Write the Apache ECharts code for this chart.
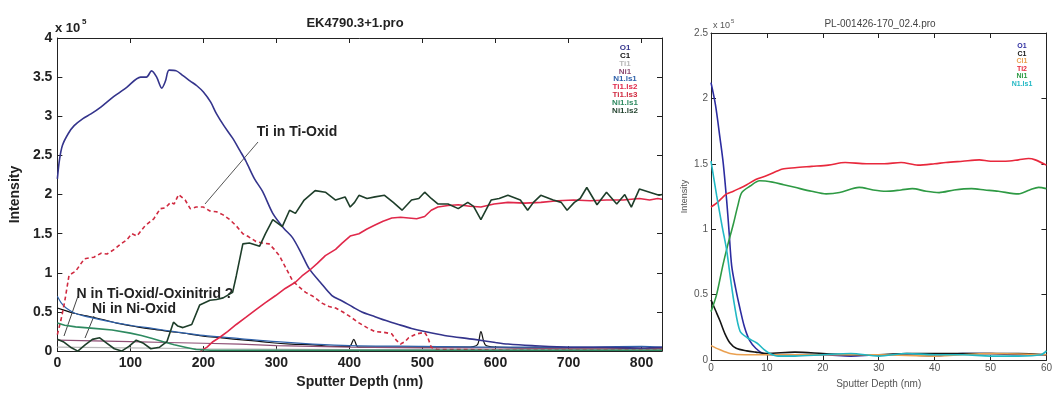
<!DOCTYPE html>
<html>
<head>
<meta charset="utf-8">
<script src="https://cdn.jsdelivr.net/npm/echarts@6/dist/echarts.min.js"></script>
<style>
  html, body { margin: 0; padding: 0; background: #fff; }
  #chart { width: 1055px; height: 394px; }
</style>
</head>
<body>
<div id="chart"></div>
<script>
// ---- left profile: EK4790.3+1.pro  (depth nm, intensity x1e5) ----
const LEFT_X_TICKS = [0, 100, 200, 300, 400, 500, 600, 700, 800];
const LEFT_Y_TICKS = [0, 0.5, 1, 1.5, 2, 2.5, 3, 3.5, 4];

const L_O1 = [[0,2.2],[3,2.45],[7,2.63],[15,2.78],[23,2.88],[35,2.97],[46,3.03],[60,3.12],[77,3.25],[95,3.37],[114,3.5],[122,3.5],[129,3.58],[136,3.5],[143,3.36],[148,3.45],[153,3.59],[163,3.58],[172,3.52],[182,3.45],[191,3.39],[200,3.31],[210,3.18],[218,3.03],[228,2.88],[240,2.72],[250,2.56],[258,2.43],[270,2.2],[281,2.04],[295,1.76],[310,1.57],[322,1.45],[334,1.25],[345,1.05],[360,0.88],[376,0.71],[390,0.64],[405,0.56],[417,0.5],[435,0.44],[450,0.39],[467,0.34],[485,0.29],[503,0.25],[530,0.2],[571,0.15],[600,0.11],[617,0.09],[650,0.07],[700,0.05],[750,0.05],[800,0.04],[828,0.05]];
const L_C1 = [[0,0.55],[10,0.52],[20,0.49],[40,0.45],[64,0.4],[85,0.35],[109,0.31],[130,0.28],[155,0.25],[180,0.22],[200,0.19],[225,0.17],[245,0.15],[270,0.13],[290,0.11],[320,0.09],[350,0.08],[381,0.06],[400,0.06],[406,0.15],[412,0.05],[450,0.05],[500,0.05],[560,0.05],[575,0.08],[580,0.25],[586,0.08],[600,0.05],[650,0.04],[700,0.04],[750,0.04],[800,0.03],[828,0.03]];
const L_TI1 = [[0,0.05],[100,0.04],[200,0.03],[400,0.02],[600,0.02],[828,0.02]];
const L_NI1 = [[0,0.14],[50,0.13],[100,0.12],[150,0.11],[200,0.1],[250,0.09],[300,0.07],[350,0.06],[400,0.05],[500,0.04],[600,0.04],[700,0.03],[828,0.03]];
const L_N1_LS1 = [[0,0.7],[5,0.62],[12,0.55],[25,0.48],[45,0.43],[70,0.38],[100,0.33],[130,0.29],[160,0.25],[200,0.2],[250,0.16],[300,0.12],[350,0.09],[400,0.07],[500,0.06],[600,0.05],[700,0.05],[800,0.06],[828,0.05]];
const L_TI1_LS2 = [[196,0],[205,0.05],[213,0.12],[223,0.18],[233,0.25],[245,0.34],[258,0.43],[272,0.53],[285,0.62],[299,0.71],[312,0.8],[326,0.88],[335,0.96],[345,1.03],[356,1.12],[367,1.22],[381,1.3],[390,1.38],[401,1.47],[413,1.5],[424,1.56],[435,1.61],[446,1.66],[458,1.7],[470,1.71],[481,1.7],[492,1.69],[503,1.72],[512,1.8],[521,1.84],[535,1.86],[549,1.87],[565,1.85],[580,1.84],[598,1.88],[617,1.9],[640,1.89],[662,1.9],[685,1.92],[707,1.93],[730,1.92],[752,1.93],[775,1.93],[797,1.95],[811,1.93],[822,1.95],[828,1.94]];
const L_TI1_LS3 = [[0,0.21],[5,0.4],[10,0.63],[16,0.97],[25,1.02],[37,1.18],[50,1.2],[60,1.25],[68,1.24],[78,1.3],[87,1.37],[95,1.42],[102,1.5],[109,1.47],[120,1.6],[132,1.69],[141,1.82],[148,1.83],[155,1.9],[160,1.88],[166,2.0],[175,1.93],[182,1.82],[190,1.84],[200,1.84],[209,1.79],[218,1.78],[227,1.74],[236,1.68],[245,1.6],[254,1.5],[262,1.46],[272,1.4],[281,1.38],[290,1.37],[297,1.3],[304,1.22],[313,1.06],[322,0.9],[331,0.82],[340,0.75],[350,0.7],[363,0.61],[372,0.57],[381,0.55],[391,0.5],[401,0.44],[413,0.36],[424,0.3],[435,0.25],[447,0.24],[458,0.22],[464,0.14],[470,0.09],[476,0.12],[481,0.17],[492,0.22],[503,0.24],[507,0.18],[512,0.05],[520,0.02],[560,0.02],[620,0.01],[828,0.01]];
const L_NI1_LS1 = [[0,0.36],[10,0.33],[25,0.31],[50,0.29],[75,0.27],[100,0.23],[115,0.2],[130,0.16],[145,0.12],[160,0.08],[175,0.05],[190,0.02],[210,0.01],[300,0.01],[828,0.01]];
const L_NI1_LS2 = [[0,0.15],[8,0.12],[18,0.05],[28,0],[38,0.08],[48,0.15],[58,0.17],[68,0.1],[78,0.03],[88,0],[98,0.06],[108,0.14],[118,0.1],[128,0.03],[140,0.05],[150,0.12],[159,0.37],[165,0.32],[172,0.3],[184,0.34],[195,0.59],[209,0.65],[218,0.66],[227,0.68],[240,0.75],[245,0.96],[254,1.37],[263,1.38],[277,1.34],[285,1.5],[295,1.68],[308,1.59],[318,1.8],[326,1.76],[338,1.93],[353,2.05],[367,2.03],[381,1.93],[394,1.97],[401,1.84],[407,1.9],[413,1.99],[424,1.95],[435,1.97],[448,1.99],[460,1.9],[472,1.8],[485,1.93],[495,1.95],[503,2.03],[512,1.95],[521,1.88],[535,1.88],[549,1.82],[562,1.9],[570,1.85],[580,1.68],[594,1.93],[605,1.95],[617,1.99],[634,1.93],[644,1.8],[652,1.9],[662,1.99],[679,1.93],[690,1.9],[698,1.8],[708,1.9],[716,1.95],[725,2.09],[739,1.87],[752,2.03],[766,1.88],[777,2.0],[786,1.84],[797,2.07],[811,2.03],[824,1.99],[828,2.0]];

// ---- right profile: PL-001426-170_02.4.pro ----
const RIGHT_X_TICKS = [0, 10, 20, 30, 40, 50, 60];
const RIGHT_Y_TICKS = [0, 0.5, 1, 1.5, 2, 2.5];

const R_O1 = [[0,2.12],[0.8,1.95],[1.6,1.7],[2.2,1.5],[2.8,1.22],[3.2,1.0],[3.7,0.72],[4.4,0.55],[5.2,0.39],[6,0.25],[6.9,0.15],[8,0.09],[9.3,0.05],[11,0.04],[15,0.04],[20,0.04],[25,0.03],[30,0.04],[35,0.04],[40,0.03],[45,0.05],[50,0.05],[55,0.04],[60,0.04]];
const R_C1 = [[0,0.46],[0.8,0.38],[1.6,0.3],[2.5,0.2],[3.4,0.13],[4.5,0.09],[6.4,0.07],[8,0.06],[10,0.05],[15,0.06],[20,0.05],[25,0.04],[30,0.04],[35,0.05],[40,0.05],[45,0.05],[50,0.05],[55,0.05],[60,0.04]];
const R_CL1 = [[0,0.11],[1.5,0.08],[3.4,0.05],[6,0.04],[10,0.04],[20,0.04],[30,0.04],[40,0.03],[50,0.05],[60,0.04]];
const R_TI2 = [[0,1.17],[1,1.2],[2,1.24],[2.8,1.27],[4,1.29],[5,1.31],[6.4,1.34],[8,1.38],[10,1.41],[12.8,1.46],[15,1.47],[18,1.48],[21,1.49],[24,1.51],[27.8,1.5],[31,1.5],[34,1.51],[37,1.49],[40,1.5],[42,1.51],[45,1.52],[48,1.53],[50,1.52],[52.7,1.52],[55,1.53],[56.8,1.54],[58,1.53],[60,1.49]];
const R_NI1 = [[0,0.37],[1,0.5],[2.1,0.72],[3,0.88],[4,1.04],[4.8,1.18],[5.5,1.28],[7,1.33],[8.7,1.37],[11,1.36],[13,1.34],[15,1.32],[18,1.29],[20.6,1.27],[23,1.28],[26.5,1.32],[29,1.3],[31.3,1.29],[34,1.3],[36,1.31],[38.5,1.29],[40.8,1.28],[43.5,1.3],[46.6,1.31],[49,1.3],[51.4,1.29],[55,1.27],[57,1.3],[58.6,1.32],[60,1.31]];
const R_N1_LS1 = [[0,1.52],[1,1.26],[2,1.02],[2.8,0.84],[3.4,0.65],[4.2,0.42],[5.2,0.22],[6.5,0.17],[8.2,0.13],[9.5,0.08],[10.5,0.05],[12,0.03],[15,0.03],[20,0.04],[25,0.05],[30,0.03],[35,0.05],[40,0.04],[45,0.04],[50,0.03],[55,0.03],[59,0.04],[60,0.07]];

const LEFT_LEGEND = ["O1", "C1", "Ti1", "Ni1", "N1.ls1", "Ti1.ls2", "Ti1.ls3", "Ni1.ls1", "Ni1.ls2"];
const LEFT_COLORS = ["#34348c", "#111111", "#b8b8b8", "#8e4e74", "#3062aa", "#e0284a", "#d02a40", "#2e8a60", "#1e3e2a"];
const RIGHT_LEGEND = ["O1", "C1", "Cl1", "Ti2", "Ni1", "N1.ls1"];
const RIGHT_COLORS = ["#2c2ca0", "#151515", "#eaa050", "#e8283c", "#2e9a44", "#22b8c4"];

const leftData = [L_O1, L_C1, L_TI1, L_NI1, L_N1_LS1, L_TI1_LS2, L_TI1_LS3, L_NI1_LS1, L_NI1_LS2];
const rightData = [R_O1, R_C1, R_CL1, R_TI2, R_NI1, R_N1_LS1];

const chart = echarts.init(document.getElementById("chart"), null, { renderer: "canvas" });

// axis helper: main axis with labels + a mirror axis for the ticks on the opposite side
const mkX = (grid, max, ticks, main, font) => ({
  type: "value",
  gridIndex: grid,
  position: main ? "bottom" : "top",
  min: 0,
  max: max,
  interval: ticks[1] - ticks[0],
  axisLine: { show: true, onZero: false, lineStyle: { color: "#222", width: 1 } },
  axisTick: { show: true, inside: true, length: 5, lineStyle: { color: "#222" } },
  axisLabel: { show: main, showMaxLabel: max === ticks[ticks.length - 1], ...font },
  splitLine: { show: false },
});
const mkY = (grid, ticks, main, font) => ({
  type: "value",
  gridIndex: grid,
  position: main ? "left" : "right",
  min: 0,
  max: ticks[ticks.length - 1],
  interval: ticks[1] - ticks[0],
  axisLine: { show: true, onZero: false, lineStyle: { color: "#222", width: 1 } },
  axisTick: { show: true, inside: true, length: 5, lineStyle: { color: "#222" } },
  axisLabel: { show: main, ...font },
  splitLine: { show: false },
});

const leftFont = { fontFamily: "Liberation Sans", fontSize: 14, fontWeight: "bold", color: "#222", margin: 5 };
const rightFont = { fontFamily: "Liberation Sans", fontSize: 10, color: "#555", margin: 3 };

const series = [];
leftData.forEach((d, i) => {
  series.push({
    name: "L_" + LEFT_LEGEND[i],
    type: "line",
    xAxisIndex: 0,
    yAxisIndex: 0,
    data: d,
    showSymbol: false,
    symbol: "none",
    smooth: i === 0 || i === 1 || i === 4 ? 0.3 : false,
    lineStyle: {
      color: LEFT_COLORS[i],
      width: i === 0 || i >= 5 ? 1.6 : 1.2,
      type: i === 6 ? [4, 3] : "solid",
    },
    z: i === 0 || i >= 5 ? 3 : 2,
  });
});
rightData.forEach((d, i) => {
  series.push({
    name: "R_" + RIGHT_LEGEND[i],
    type: "line",
    xAxisIndex: 2,
    yAxisIndex: 2,
    data: d,
    showSymbol: false,
    symbol: "none",
    smooth: 0.3,
    lineStyle: { color: RIGHT_COLORS[i], width: 1.6 },
  });
});

// legend texts (coloured text only, as in the source plots)
const legendText = (names, colors, cx, top, step, size) =>
  names.map((n, i) => ({
    type: "text",
    x: cx,
    y: top + i * step,
    style: {
      text: n,
      fill: colors[i],
      font: "bold " + size + "px 'Liberation Sans'",
      align: "center",
      verticalAlign: "middle",
    },
  }));

const graphic = [
  // titles
  { type: "text", x: 355, y: 23, style: { text: "EK4790.3+1.pro", font: "bold 13px 'Liberation Sans'", fill: "#222", align: "center", verticalAlign: "middle" } },
  { type: "text", x: 880, y: 24, style: { text: "PL-001426-170_02.4.pro", font: "10px 'Liberation Sans'", fill: "#444", align: "center", verticalAlign: "middle" } },
  // x 10^5 multipliers
  { type: "text", x: 55, y: 28, style: { text: "x 10", font: "bold 13px 'Liberation Sans'", fill: "#222", verticalAlign: "middle" } },
  { type: "text", x: 82, y: 22, style: { text: "5", font: "bold 8px 'Liberation Sans'", fill: "#222", verticalAlign: "middle" } },
  { type: "text", x: 713, y: 26, style: { text: "x 10", font: "9px 'Liberation Sans'", fill: "#555", verticalAlign: "middle" } },
  { type: "text", x: 731, y: 21, style: { text: "5", font: "6px 'Liberation Sans'", fill: "#555", verticalAlign: "middle" } },
  // annotations
  { type: "text", x: 297, y: 132, style: { text: "Ti in Ti-Oxid", font: "bold 14px 'Liberation Sans'", fill: "#222", align: "center", verticalAlign: "middle" } },
  { type: "line", shape: { x1: 258, y1: 142, x2: 205, y2: 204 }, style: { stroke: "#555", lineWidth: 1 } },
  { type: "text", x: 155, y: 294, style: { text: "N in Ti-Oxid/-Oxinitrid ?", font: "bold 14px 'Liberation Sans'", fill: "#222", align: "center", verticalAlign: "middle" } },
  { type: "text", x: 134, y: 309, style: { text: "Ni in Ni-Oxid", font: "bold 14px 'Liberation Sans'", fill: "#222", align: "center", verticalAlign: "middle" } },
  { type: "line", shape: { x1: 78, y1: 296, x2: 64, y2: 336 }, style: { stroke: "#444", lineWidth: 1 } },
  { type: "line", shape: { x1: 94, y1: 316, x2: 85, y2: 338 }, style: { stroke: "#444", lineWidth: 1 } },
  ...legendText(LEFT_LEGEND, LEFT_COLORS, 625, 48, 7.8, 8),
  ...legendText(RIGHT_LEGEND, RIGHT_COLORS, 1022, 46, 7.6, 7),
];

chart.setOption({
  animation: false,
  backgroundColor: "#fff",
  grid: [
    { left: 53, top: 38, width: 609, height: 319, show: false },
    { left: 711, top: 33, width: 337, height: 337, show: false },
  ],
  xAxis: [
    { ...mkX(0, 828, LEFT_X_TICKS, true, leftFont), name: "Sputter Depth (nm)", nameLocation: "middle", nameGap: 19,
      nameTextStyle: { fontFamily: "Liberation Sans", fontSize: 14, fontWeight: "bold", color: "#222" } },
    mkX(0, 828, LEFT_X_TICKS, false, leftFont),
    { ...mkX(1, 60, RIGHT_X_TICKS, true, rightFont), name: "Sputter Depth (nm)", nameLocation: "middle", nameGap: 19,
      nameTextStyle: { fontFamily: "Liberation Sans", fontSize: 10, color: "#555" } },
    mkX(1, 60, RIGHT_X_TICKS, false, rightFont),
  ],
  yAxis: [
    { ...mkY(0, LEFT_Y_TICKS, true, leftFont), name: "Intensity", nameLocation: "middle", nameGap: 27,
      nameTextStyle: { fontFamily: "Liberation Sans", fontSize: 14, fontWeight: "bold", color: "#222" } },
    mkY(0, LEFT_Y_TICKS, false, leftFont),
    { ...mkY(1, RIGHT_Y_TICKS, true, rightFont), name: "Intensity", nameLocation: "middle", nameGap: 22,
      nameTextStyle: { fontFamily: "Liberation Sans", fontSize: 9, color: "#555" } },
    mkY(1, RIGHT_Y_TICKS, false, rightFont),
  ],
  graphic: graphic,
  series: series,
});
</script>
</body>
</html>
